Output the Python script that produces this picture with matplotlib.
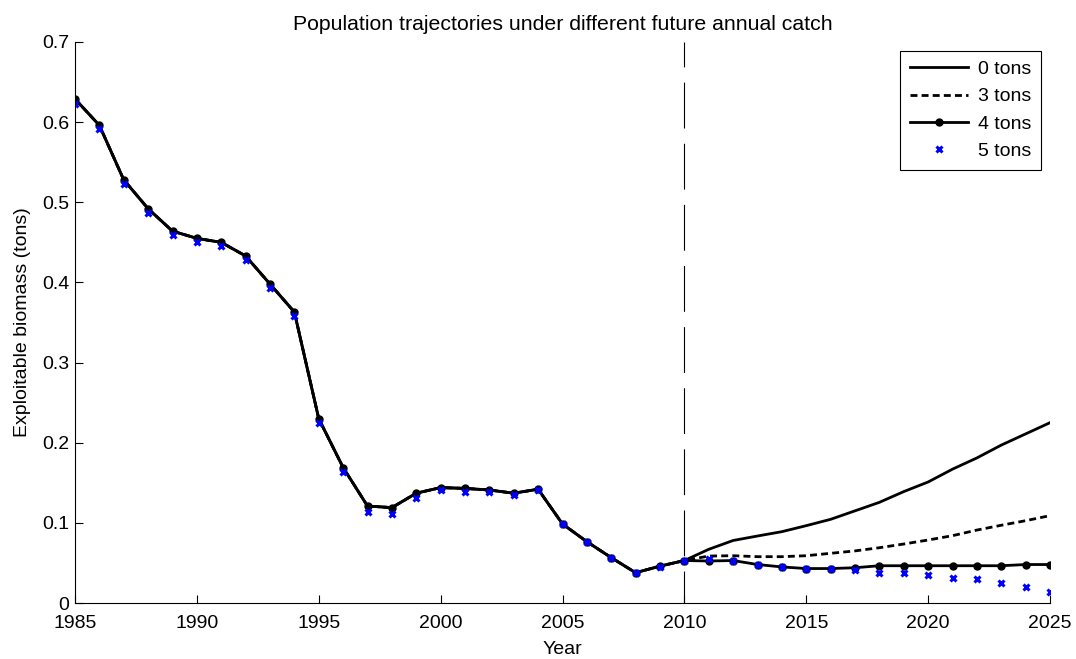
import numpy as np
import matplotlib
matplotlib.use("Agg")
import matplotlib.pyplot as plt

plt.rcParams['font.family'] = ['Liberation Sans', 'DejaVu Sans']
plt.rcParams['lines.scale_dashes'] = False

# Years
hist_years = list(range(1985, 2011))
proj_years = list(range(2011, 2026))

# Estimated exploitable biomass (tons), 1985-2010
hist_biomass = [0.629, 0.596, 0.528, 0.492, 0.464, 0.455, 0.450, 0.433, 0.398, 0.363,
                0.230, 0.169, 0.121, 0.119, 0.137, 0.144, 0.143, 0.141, 0.137, 0.142,
                0.0986, 0.0765, 0.0566, 0.0378, 0.046, 0.053]

# Projections, 2011-2025, for each future annual catch
proj_0 = [0.067, 0.078, 0.0836, 0.089, 0.0965, 0.1044, 0.115, 0.1256, 0.139, 0.151,
          0.167, 0.181, 0.197, 0.211, 0.225]
proj_3 = [0.0586, 0.059, 0.0578, 0.0578, 0.059, 0.062, 0.065, 0.069, 0.0736, 0.0786,
          0.084, 0.091, 0.097, 0.1027, 0.109]
proj_4 = [0.0524, 0.053, 0.048, 0.045, 0.043, 0.043, 0.044, 0.0465, 0.0465, 0.0465,
          0.0465, 0.0465, 0.0465, 0.048, 0.048]

# 5-ton trajectory over the whole period
years_5 = hist_years + proj_years
biomass_5 = [0.623, 0.591, 0.523, 0.487, 0.459, 0.450, 0.445, 0.428, 0.393, 0.358,
             0.224, 0.163, 0.113, 0.111, 0.131, 0.141, 0.139, 0.139, 0.135, 0.141,
             0.098, 0.076, 0.056, 0.037, 0.045, 0.052,
             0.055, 0.053, 0.048, 0.0446, 0.0424, 0.0424, 0.041, 0.038, 0.037, 0.035,
             0.031, 0.0295, 0.0246, 0.0204, 0.0133]

legend_labels = ['0 tons', '3 tons', '4 tons', '5 tons']
split_year = 2010

years_all = hist_years + proj_years

fig = plt.figure(figsize=(10.76, 6.59), dpi=100)
ax = fig.add_axes([75 / 1076, 1 - 603 / 659, (1050 - 75) / 1076, (603 - 42) / 659])

ax.plot(years_all, hist_biomass + proj_0, color='black', lw=2.0, label=legend_labels[0])
ax.plot(years_all, hist_biomass + proj_3, color='black', lw=2.0, ls=(0, (5, 3)),
        label=legend_labels[1])
ax.plot(years_all, hist_biomass + proj_4, color='black', lw=2.0, marker='o', ms=5,
        label=legend_labels[2])
ax.plot(years_5, biomass_5, ls='none', marker='x', ms=5, mew=2.2, color='blue',
        label=legend_labels[3])

ax.axvline(split_year, color='black', lw=0.8, ls=(10, (33, 11)))

ax.set_xlim(1985, 2025)
ax.set_ylim(0, 0.7)
ax.set_xticks(range(1985, 2026, 5))
ax.set_yticks(np.arange(0, 0.71, 0.1))
ax.set_yticklabels(['0', '0.1', '0.2', '0.3', '0.4', '0.5', '0.6', '0.7'])

for side in ('top', 'right'):
    ax.spines[side].set_visible(False)
for side in ('left', 'bottom'):
    ax.spines[side].set_linewidth(0.8)
ax.tick_params(direction='in', length=6, width=0.8, labelsize=14)
ax.tick_params(axis='x', pad=9)
ax.tick_params(axis='y', pad=4)

ax.set_title('Population trajectories under different future annual catch',
             fontsize=15.3, pad=9)
ax.set_xlabel('Year', fontsize=14, labelpad=6)
ax.set_ylabel('Exploitable biomass (tons)', fontsize=14, labelpad=8)

leg = ax.legend(loc='upper right', fontsize=14, fancybox=False, framealpha=1,
                edgecolor='black', handlelength=3.0, labelspacing=0.5,
                borderaxespad=0.45, borderpad=0.5, handletextpad=0.5)
leg.get_frame().set_linewidth(0.8)

fig.savefig('out.png', dpi=100)
